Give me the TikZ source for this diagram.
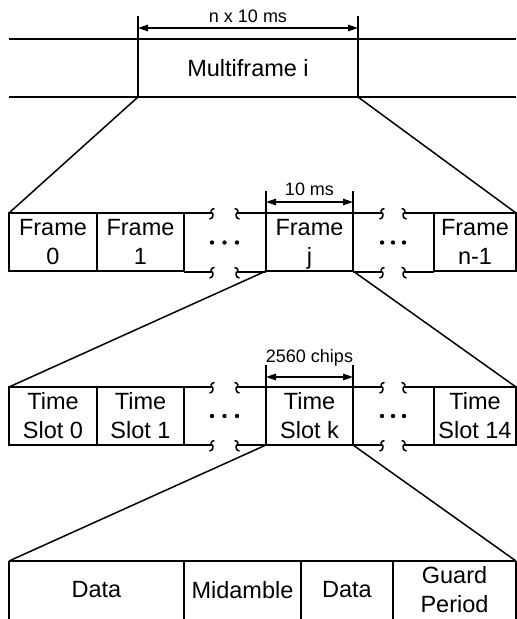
\documentclass[tikz,border=0pt]{standalone}
\usepackage{fontspec}
\setmainfont{Liberation Sans}
\usetikzlibrary{arrows.meta,positioning}

% break marks on the row edges
\newcommand{\cutL}[2]{\draw (#1+2.5,#2-4.5) .. controls (#1-1.5,#2-4.5) and (#1-1.5,#2) .. (#1,#2)
  .. controls (#1+1.5,#2) and (#1+1.5,#2+6) .. (#1-2.5,#2+6);}
\newcommand{\cutR}[2]{\draw (#1-2.5,#2-4.5) .. controls (#1+1.5,#2-4.5) and (#1+1.5,#2) .. (#1,#2)
  .. controls (#1-1.5,#2) and (#1-1.5,#2+6) .. (#1+2.5,#2+6);}

\tikzset{
  cell/.style={draw,minimum height=58pt,inner sep=0pt,outer sep=0pt,anchor=north west,
    align=center,font=\fontsize{23.5}{29}\selectfont},
  field/.style={cell,draw=none},
  dim/.style={{Triangle[length=10pt,width=6.5pt]}-{Triangle[length=10pt,width=6.5pt]},line width=1.3pt},
  dimtext/.style={midway,inner sep=0pt,font=\fontsize{18}{20}\selectfont}
}

\begin{document}
\begin{tikzpicture}[x=1pt,y=-1pt,line width=1.5pt]
  \useasboundingbox (0,0) rectangle (517,619);

  % multiframe
  \draw (9,39) -- (516,39);
  \draw (9,97) -- (516,97);
  \node[cell,minimum width=220pt] (multi) at (138,39) {Multiframe i};
  \draw (multi.north west) -- ++(0,-23);
  \draw (multi.north east) -- ++(0,-23);
  \draw[dim] (138,28) -- (358,28) node[dimtext,above=5pt] {n x 10 ms};

  % frames
  \node[cell,minimum width=88pt] (frame0) at (9,213) {Frame\\0};
  \node[cell,minimum width=87pt,right=0pt of frame0,anchor=west] (frame1) {Frame\\1};
  \node[cell,minimum width=87pt] (framej) at (266,213) {Frame\\\smash{j}};
  \node[cell,minimum width=82pt] (framen) at (434,213) {Frame\\n-1};
  \foreach \y in {213,272} {
    \draw (184,\y) -- (212,\y); \cutL{212}{\y}
    \draw (237,\y) -- (266,\y); \cutR{237}{\y}
    \draw (353,\y) -- (382,\y); \cutL{382}{\y}
    \draw (404,\y) -- (434,\y); \cutR{404}{\y}
  }
  \foreach \x in {212,224.5,237,382,393,404} \fill (\x,242.5) circle[radius=2.2pt];
  \draw (framej.north west) -- ++(0,-22);
  \draw (framej.north east) -- ++(0,-22);
  \draw[dim] (266,202) -- (353,202) node[dimtext,above=6pt] {10 ms};
  \draw (multi.south west) -- (frame0.north west);
  \draw (multi.south east) -- (framen.north east);

  % time slots
  \node[cell,minimum width=88pt] (slot0) at (9,387) {Time\\Slot 0};
  \node[cell,minimum width=87pt,right=0pt of slot0,anchor=west] (slot1) {Time\\Slot 1};
  \node[cell,minimum width=87pt] (slotk) at (266,387) {Time\\Slot k};
  \node[cell,minimum width=82pt] (slotn) at (434,387) {Time\\Slot 14};
  \foreach \y in {387,445} {
    \draw (184,\y) -- (212,\y); \cutL{212}{\y}
    \draw (237,\y) -- (266,\y); \cutR{237}{\y}
    \draw (353,\y) -- (382,\y); \cutL{382}{\y}
    \draw (404,\y) -- (434,\y); \cutR{404}{\y}
  }
  \foreach \x in {212,224.5,237,382,393,404} \fill (\x,416) circle[radius=2.2pt];
  \draw (slotk.north west) -- ++(0,-22);
  \draw (slotk.north east) -- ++(0,-22);
  \draw[dim] (266,377) -- (353,377) node[dimtext,above=10pt] {2560 chips};
  \draw (framej.south west) -- (slot0.north west);
  \draw (framej.south east) -- (slotn.north east);

  % time slot fields
  \node[field,minimum width=175pt] (data1) at (9,561) {Data};
  \node[field,minimum width=117pt] (mid) at (184,561) {Midamble};
  \node[field,minimum width=92pt] (data2) at (301,561) {Data};
  \node[field,minimum width=123pt] (guard) at (393,561) {Guard\\Period};
  \draw (data1.north west) -- (guard.north east);
  \foreach \n in {data1,mid,data2,guard} \draw (\n.north west) -- (\n.south west);
  \draw (guard.north east) -- (guard.south east);
  \draw (slotk.south west) -- (data1.north west);
  \draw (slotk.south east) -- (guard.north east);
\end{tikzpicture}
\end{document}
